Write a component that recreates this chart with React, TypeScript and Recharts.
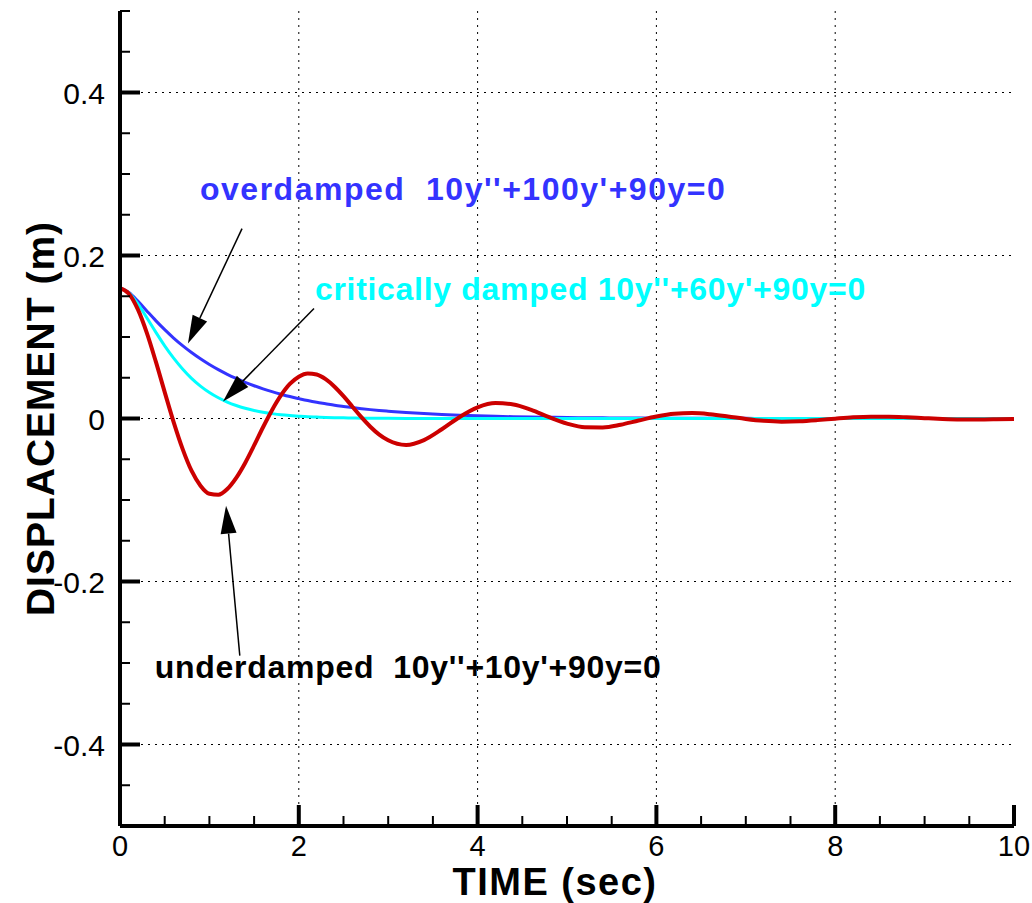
import React from 'react';
import { LineChart, Line, XAxis, YAxis, CartesianGrid, ReferenceLine, ReferenceDot } from 'recharts';

// time (sec) and displacement (m)
const time = [
  0, 0.1, 0.2, 0.3, 0.4, 0.5, 0.6, 0.7, 0.8, 0.9, 1.0, 1.1, 1.2, 1.3, 1.4, 1.5, 1.6, 1.7, 1.8, 1.9, 2.0,
  2.1, 2.2, 2.3, 2.4, 2.5, 2.6, 2.7, 2.8, 2.9, 3.0,
  3.2, 3.4, 3.6, 3.8, 4.0, 4.2, 4.4, 4.6, 4.8, 5.0, 5.2, 5.4, 5.6, 5.8, 6.0, 6.2, 6.4, 6.6, 6.8, 7.0,
  7.2, 7.4, 7.6, 7.8, 8.0, 8.2, 8.4, 8.6, 8.8, 9.0, 9.2, 9.4, 9.6, 9.8, 10,
];

const overdamped = [
  0.16, 0.1547, 0.1441, 0.132, 0.1201, 0.109, 0.0987, 0.0894, 0.0809, 0.0732, 0.0662, 0.0599, 0.0542, 0.0491,
  0.0444, 0.0402, 0.0363, 0.0329, 0.0298, 0.0269, 0.0244, 0.022, 0.0199, 0.0181, 0.0163, 0.0148, 0.0134,
  0.0121, 0.0109, 0.0099, 0.009,
  0.0073, 0.006, 0.0049, 0.004, 0.0033, 0.0027, 0.0022, 0.0018, 0.0015, 0.0012, 0.001, 0.0008, 0.0007,
  0.0005, 0.0004, 0.0004, 0.0003, 0.0002, 0.0002, 0.0002, 0.0001, 0.0001, 0.0001, 0.0001, 0.0001,
  0, 0, 0, 0, 0, 0, 0, 0, 0, 0,
];

const critical = [
  0.16, 0.1541, 0.1405, 0.1236, 0.106, 0.0892, 0.0741, 0.0608, 0.0493, 0.0398, 0.0319, 0.0254, 0.0201,
  0.0159, 0.0125, 0.0098, 0.0076, 0.006, 0.0046, 0.0036, 0.0028, 0.0021, 0.0017, 0.0013, 0.001, 0.0008,
  0.0006, 0.0004, 0.0003, 0.0003, 0.0002,
  0.0001, 0.0001, 0, 0, 0, 0, 0, 0, 0, 0, 0, 0, 0, 0, 0, 0, 0, 0, 0, 0,
  0, 0, 0, 0, 0, 0, 0, 0, 0, 0, 0, 0, 0, 0, 0,
];

const underdamped = [
  0.16, 0.1531, 0.1338, 0.105, 0.07, 0.0324, -0.0044, -0.0373, -0.0641, -0.0824, -0.0923, -0.0935, -0.0865,
  -0.0728, -0.0545, -0.033, -0.0107, 0.0102, 0.0283, 0.0424, 0.0513, 0.0552, 0.0539, 0.0482, 0.039, 0.0274,
  0.0145, 0.0016, -0.0101, -0.0198, -0.0268,
  -0.0325, -0.0265, -0.0132, 0.0019, 0.0136, 0.0189, 0.0173, 0.0105, 0.0016, -0.0062, -0.0107, -0.0109,
  -0.0076, -0.0025, 0.0024, 0.0057, 0.0066, 0.0052, 0.0025, -0.0006, -0.0029, -0.0039, -0.0034, -0.002,
  -0.0002, 0.0014, 0.0022, 0.0022, 0.0015, 0.0004, -0.0006, -0.0012, -0.0013, -0.001, -0.0005,
];

const xTicks = [0, 0.5, 1, 1.5, 2, 2.5, 3, 3.5, 4, 4.5, 5, 5.5, 6, 6.5, 7, 7.5, 8, 8.5, 9, 9.5, 10];
const xMajor = [0, 2, 4, 6, 8, 10];
const yTicks = [
  -0.5, -0.45, -0.4, -0.35, -0.3, -0.25, -0.2, -0.15, -0.1, -0.05, 0,
  0.05, 0.1, 0.15, 0.2, 0.25, 0.3, 0.35, 0.4, 0.45, 0.5,
];
const yMajor = [-0.4, -0.2, 0, 0.2, 0.4];
const xGrid = [2, 4, 6, 8];

const rows = time.map((t, i) => ({
  t,
  over: overdamped[i],
  crit: critical[i],
  under: underdamped[i],
}));

const FONT = '"Liberation Sans", Arial, Helvetica, sans-serif';
const BLUE = '#3333ff';
const CYAN = '#00ffff';
const RED = '#cc0000';

const XTick = ({ x, y, payload }: any) => {
  const major = xMajor.includes(payload.value);
  return (
    <g>
      <line x1={x} y1={y} x2={x} y2={y - (major ? 21 : 10)} stroke="#000" strokeWidth={major ? 4 : 2} />
      {major && (
        <text x={x} y={y + 30} textAnchor="middle" fontSize={29} fontFamily={FONT} fill="#000">
          {payload.value}
        </text>
      )}
    </g>
  );
};

const YTick = ({ x, y, payload }: any) => {
  const major = yMajor.some((v) => Math.abs(v - payload.value) < 1e-9);
  return (
    <g>
      <line x1={x} y1={y} x2={x + (major ? 20 : 10)} y2={y} stroke="#000" strokeWidth={major ? 4 : 2} />
      {major && (
        <text x={x - 15} y={y + 11} textAnchor="end" fontSize={30} fontFamily={FONT} fill="#000">
          {payload.value}
        </text>
      )}
    </g>
  );
};

const Arrow = (props: any) => {
  const { x1, y1, x2, y2 } = props;
  const dx = x2 - x1;
  const dy = y2 - y1;
  const len = Math.sqrt(dx * dx + dy * dy);
  const ux = dx / len;
  const uy = dy / len;
  const hl = 28;
  const hw = 8;
  const bx = x2 - ux * hl;
  const by = y2 - uy * hl;
  const pts = `${x2},${y2} ${bx - uy * hw},${by + ux * hw} ${bx + uy * hw},${by - ux * hw}`;
  return (
    <g>
      <line x1={x1} y1={y1} x2={bx} y2={by} stroke="#000" strokeWidth={1.5} />
      <polygon points={pts} fill="#000" />
    </g>
  );
};

const note = (text: string, color: string, spacing: number) => (p: any) => (
  <text x={p.cx} y={p.cy} fontSize={32} fontWeight="bold" fontFamily={FONT} fill={color}
    letterSpacing={spacing} style={{ whiteSpace: 'pre' }}>
    {text}
  </text>
);

export default function App() {
  return (
    <div style={{ position: 'absolute', left: 0, top: 0, width: 1032, height: 903, background: '#fff' }}>
      <LineChart width={1032} height={903} data={rows} margin={{ top: 11, right: 18, bottom: 0, left: 0 }}>
        <CartesianGrid
          stroke="#000"
          strokeDasharray="2 5"
          strokeWidth={1}
          horizontalValues={yMajor}
          verticalValues={xGrid}
        />
        <XAxis
          dataKey="t"
          type="number"
          domain={[0, 10]}
          ticks={xTicks}
          interval={0}
          height={77}
          tickSize={0}
          tickMargin={0}
          tickLine={false}
          axisLine={{ stroke: '#000', strokeWidth: 4 }}
          tick={<XTick />}
          label={{
            content: (p: any) => {
              const vb = p.viewBox;
              return (
                <text x={vb.x + vb.width / 2 - 12} y={vb.y + 69} textAnchor="middle" fontSize={38}
                  fontWeight="bold" fontFamily={FONT} fill="#000" letterSpacing={1.5}>
                  TIME (sec)
                </text>
              );
            },
          }}
        />
        <YAxis
          type="number"
          domain={[-0.5, 0.5]}
          ticks={yTicks}
          interval={0}
          width={120}
          tickSize={0}
          tickMargin={0}
          tickLine={false}
          axisLine={{ stroke: '#000', strokeWidth: 4 }}
          tick={<YTick />}
          label={{
            content: (p: any) => {
              const vb = p.viewBox;
              const cx = 40;
              const cy = vb.y + vb.height / 2;
              return (
                <text x={cx} y={cy} transform={`rotate(-90 ${cx} ${cy})`} textAnchor="middle"
                  dominantBaseline="central" fontSize={39} fontWeight="bold" fontFamily={FONT} fill="#000"
                  letterSpacing={1}>
                  DISPLACEMENT (m)
                </text>
              );
            },
          }}
        />
        <Line type="monotone" dataKey="over" stroke={BLUE} strokeWidth={3} dot={false} isAnimationActive={false} />
        <Line type="monotone" dataKey="crit" stroke={CYAN} strokeWidth={3} dot={false} isAnimationActive={false} />
        <Line type="monotone" dataKey="under" stroke={RED} strokeWidth={4} dot={false} isAnimationActive={false} />

        <ReferenceLine segment={[{ x: 1.365, y: 0.233 }, { x: 0.76, y: 0.092 }]} shape={Arrow} />
        <ReferenceLine segment={[{ x: 2.17, y: 0.135 }, { x: 1.152, y: 0.021 }]} shape={Arrow} />
        <ReferenceLine segment={[{ x: 1.34, y: -0.291 }, { x: 1.186, y: -0.107 }]} shape={Arrow} />

        <ReferenceDot x={0.895} y={0.2675} r={0} shape={note("overdamped  10y''+100y'+90y=0", BLUE, 1.5)} />
        <ReferenceDot x={2.18} y={0.1448} r={0} shape={note("critically damped 10y''+60y'+90y=0", CYAN, 0.7)} />
        <ReferenceDot x={0.39} y={-0.318} r={0} shape={note("underdamped  10y''+10y'+90y=0", '#000', 0.7)} />
      </LineChart>
    </div>
  );
}
